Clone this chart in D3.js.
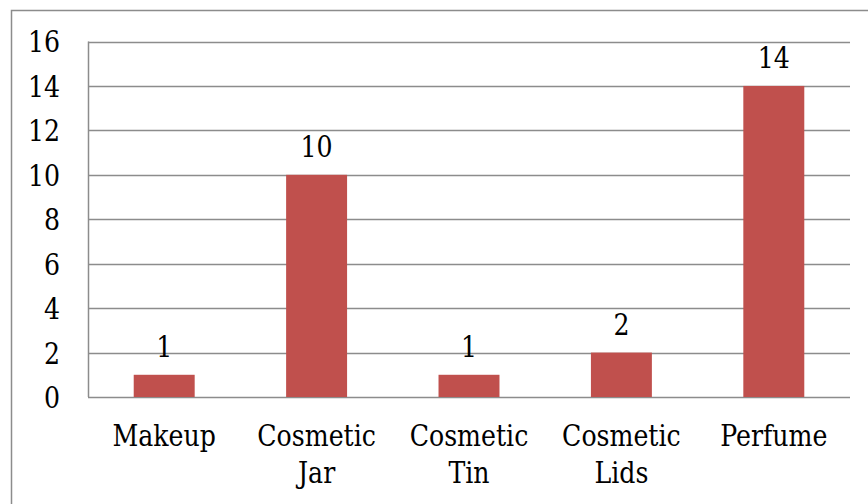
<!DOCTYPE html>
<html>
<head>
<meta charset="utf-8">
<script src="https://cdn.jsdelivr.net/npm/d3@7"></script>
<style>
  html, body { margin: 0; padding: 0; background: #fff; }
  svg { display: block; }
</style>
</head>
<body>
<svg id="chart" width="868" height="504"></svg>
<script>
const categories = [["Makeup"], ["Cosmetic", "Jar"], ["Cosmetic", "Tin"], ["Cosmetic", "Lids"], ["Perfume"]];
const values = [1, 10, 1, 2, 14];
const yTicks = [0, 2, 4, 6, 8, 10, 12, 14, 16];

const FONT = "'DejaVu Serif'";
const fontSize = 29;
const sx = 0.87;            // narrow the serif glyphs horizontally
const plot = { left: 88, right: 850, top: 41.5, bottom: 397 };

const svg = d3.select("#chart").attr("font-family", FONT);

// outer frame
svg.append("rect")
  .attr("x", 11.5).attr("y", 10.5)
  .attr("width", 900).attr("height", 600)
  .attr("fill", "none").attr("stroke", "#8c8c8c").attr("stroke-width", 1.5);

const x = d3.scaleBand()
  .domain(d3.range(categories.length))
  .range([plot.left, plot.right])
  .paddingInner(0.6).paddingOuter(0.3);

const y = d3.scaleLinear().domain([0, 16]).range([plot.bottom, plot.top]);

// horizontal gridlines
svg.append("g").selectAll("line").data(yTicks).join("line")
  .attr("x1", plot.left).attr("x2", plot.right)
  .attr("y1", d => Math.round(y(d)) + 0.5).attr("y2", d => Math.round(y(d)) + 0.5)
  .attr("stroke", "#8c8c8c").attr("stroke-width", 1.5);

// y axis line
svg.append("line")
  .attr("x1", plot.left + 0.5).attr("x2", plot.left + 0.5)
  .attr("y1", y(16)).attr("y2", y(0))
  .attr("stroke", "#8c8c8c").attr("stroke-width", 1.5);

// y tick labels
const yAxis = d3.axisLeft(y).tickValues(yTicks).tickSize(0).tickPadding(28);
const gy = svg.append("g").attr("transform", `translate(${plot.left},0)`).call(yAxis)
  .attr("font-family", FONT).attr("font-size", fontSize);
gy.select(".domain").remove();
gy.selectAll("text")
  .attr("fill", "#000")
  .attr("dy", "0.36em")
  .attr("x", -28 / sx)
  .attr("transform", `scale(${sx},1)`);

// bars
svg.append("g").selectAll("rect").data(values).join("rect")
  .attr("x", (d, i) => x(i))
  .attr("width", x.bandwidth())
  .attr("y", d => y(d))
  .attr("height", d => y(0) - y(d))
  .attr("fill", "#c0504d");

// value labels
svg.append("g").selectAll("text").data(values).join("text")
  .attr("transform", (d, i) => `translate(${x(i) + x.bandwidth() / 2},${y(d) - 18}) scale(${sx},1)`)
  .attr("text-anchor", "middle")
  .attr("font-size", fontSize)
  .text(d => d);

// category labels
const cat = svg.append("g").selectAll("text").data(categories).join("text")
  .attr("transform", (d, i) => `translate(${x(i) + x.bandwidth() / 2},446) scale(${sx},1)`)
  .attr("text-anchor", "middle")
  .attr("font-size", fontSize);
cat.selectAll("tspan").data(d => d).join("tspan")
  .attr("x", 0)
  .attr("dy", (d, i) => i === 0 ? 0 : 37)
  .text(d => d);
</script>
</body>
</html>
